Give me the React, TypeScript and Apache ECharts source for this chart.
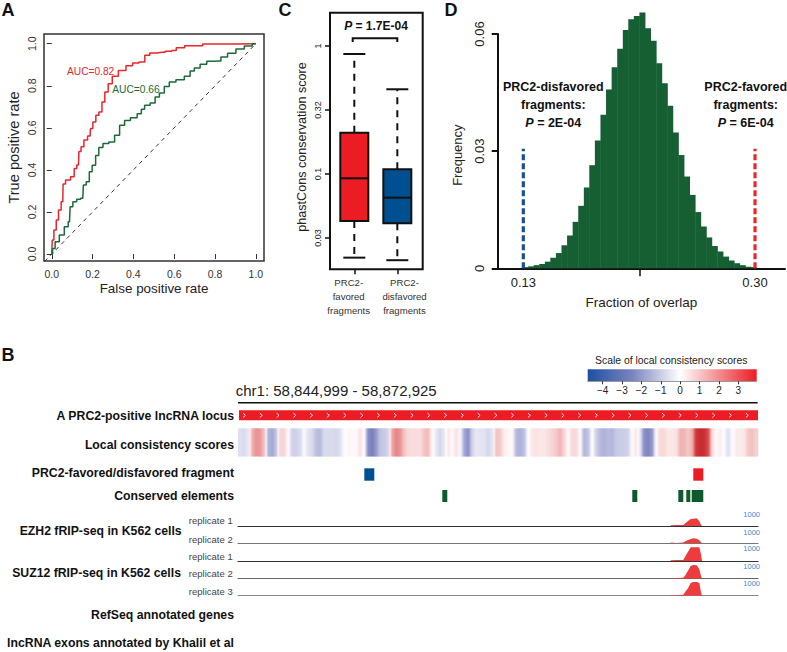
import React, { useEffect, useRef } from "react";
import * as echarts from "echarts";

const FONT = "Liberation Sans";

// Panel A: ROC curves
const rocRed = [
  [0, 0], [0.005, 0.067], [0.016, 0.114], [0.028, 0.162], [0.038, 0.209], [0.054, 0.249], [0.057, 0.333],
  [0.078, 0.352], [0.106, 0.368], [0.114, 0.407], [0.131, 0.423], [0.135, 0.487], [0.152, 0.51], [0.163, 0.542],
  [0.188, 0.561], [0.191, 0.597], [0.212, 0.628], [0.22, 0.66], [0.242, 0.675], [0.25, 0.723], [0.27, 0.77],
  [0.283, 0.81], [0.31, 0.845], [0.343, 0.873], [0.384, 0.895], [0.408, 0.908], [0.446, 0.913], [0.466, 0.945],
  [0.495, 0.956], [0.539, 0.959], [0.572, 0.964], [0.604, 0.968], [0.616, 0.981], [0.686, 0.99], [0.793, 0.998],
  [1, 1],
];
const rocGreen = [
  [0, 0], [0.008, 0.027], [0.025, 0.059], [0.049, 0.09], [0.074, 0.13], [0.087, 0.154], [0.093, 0.225],
  [0.114, 0.249], [0.131, 0.261], [0.152, 0.265], [0.158, 0.328], [0.18, 0.344], [0.188, 0.391], [0.208, 0.422],
  [0.222, 0.469], [0.239, 0.506], [0.263, 0.525], [0.296, 0.533], [0.32, 0.565], [0.345, 0.612], [0.369, 0.635],
  [0.402, 0.648], [0.435, 0.667], [0.443, 0.688], [0.467, 0.707], [0.497, 0.718], [0.516, 0.746], [0.539, 0.765],
  [0.564, 0.797], [0.588, 0.818], [0.629, 0.829], [0.67, 0.845], [0.686, 0.87], [0.711, 0.884], [0.743, 0.902],
  [0.776, 0.916], [0.817, 0.918], [0.841, 0.937], [0.882, 0.954], [0.923, 0.975], [0.964, 0.989], [1, 1],
];
const rocDiagonal = [[-0.035, -0.035], [1, 1]];
const rocTicks = [0, 0.2, 0.4, 0.6, 0.8, 1];

// Panel C: box plots, [x, low, q1, median, q3, high]
const boxRows = [
  [1, 0.0222, 0.043, 0.0925, 0.21, 0.866],
  [2, 0.0212, 0.0412, 0.0653, 0.109, 0.459],
];
const boxColors = ["#ec1c24", "#004f91"];
const phastTicks = [1, 0.316, 0.1, 0.0316];
const phastLabels = ["1", "0.32", "0.1", "0.03"];

// Panel D: permutation histogram
const binCenters = [
  0.1316, 0.1357, 0.1398, 0.1439, 0.148, 0.152, 0.1561, 0.1602, 0.1643, 0.1684, 0.1725, 0.1766, 0.1806, 0.1847,
  0.1888, 0.1929, 0.197, 0.2011, 0.2052, 0.2092, 0.2133, 0.2174, 0.2215, 0.2256, 0.2297, 0.2338, 0.2378, 0.2419,
  0.246, 0.2501, 0.2542, 0.2583, 0.2624, 0.2664, 0.2705, 0.2746, 0.2787, 0.2828, 0.2869, 0.291, 0.295, 0.2991,
];
const binFreq = [
  0.0003, 0.0005, 0.0008, 0.0011, 0.0017, 0.0027, 0.0039, 0.0059, 0.0084, 0.0119, 0.016, 0.0207, 0.0264, 0.0327,
  0.0393, 0.0458, 0.0515, 0.0562, 0.061, 0.0638, 0.0646, 0.0655, 0.0615, 0.0583, 0.0525, 0.0474, 0.0416, 0.0348,
  0.029, 0.0235, 0.0188, 0.0144, 0.0107, 0.0079, 0.0057, 0.0043, 0.003, 0.002, 0.0013, 0.0008, 0.0004, 0.0003,
];
const overlapDisfavored = 0.13;
const overlapFavored = 0.3;
const overlapMiddle = 0.2156;
const dashedHeight = 0.0306;

// Panel B: genome browser tracks
const locusStart = 58844999;
const locusEnd = 58872925;
const locusSpan = [[58845053, 58872925]];
const chevrons = [
  58845337, 58846237, 58847137, 58848037, 58848937, 58849837, 58850737, 58851637, 58852537, 58853437, 58854337,
  58855237, 58856137, 58857037, 58857937, 58858837, 58859737, 58860637, 58861537, 58862437, 58863337, 58864237,
  58865137, 58866037, 58866937, 58867837, 58868737, 58869637, 58870537, 58871437, 58872337,
];
const localScores = [
  -0.7, -0.8, -0.5, 1.4, 1.9, 1.8, 1.2, -1.6, -1.9, -1.3, 0.9, 0.9, 0.1, -1, -1, -0.8, -0.1, -0.6, -0.8, -1.4, -1.5,
  -0.8, -0.8, -0.8, -0.9, -0.7, -0.1, 0.2, 0.15, 0.1, 0.6, 0.05, -2.4, -2.7, -2.2, -1.3, -1.2, -0.9, 1.6, 2.1, 1.9,
  1.2, 0.8, 0.7, 0.7, 0.7, 1.2, 1.3, 0.2, -0.5, -0.9, -0.5, 0.5, 0.1, 0.6, 0.2, -1.9, -2.4, -1, -0.5, -0.6, -0.6,
  -0.9, -0.6, 1.2, 1.1, 0.4, 0.2, 0.1, -1.5, -1.7, -1.4, 0, 0.5, 0.6, 0.5, 0.5, 0.7, 0.9, 1.1, 1.4, 0.9, 0.1, 0.8,
  0.8, 0.1, -1.6, -1.3, 0, -1, -1.5, -1.7, -1.5, -1.6, -1.2, -1.1, -1.1, -1, 0.1, 0.5, -0.6, -2.4, -2.6, -2.2, 0.1,
  0.8, 0.8, 0.5, 0.5, 0.6, 1.4, 1.4, 1.1, 1.5, 3.4, 3.7, 3.6, 3, 0.8, 0.1, 0.4, -0.1, -0.7, -0.1, 0.4, 0.4, 0.5, 1.1,
  1.2, 1,
];
const scoreColors = [
  "#1f4ea3", "#6a70b5", "#a0a3d1", "#d0d1e9", "#ffffff", "#f6cfd0", "#e88c8e", "#d94a4d", "#bd1e24",
];
const scaleTicks = [-4, -3, -2, -1, 0, 1, 2, 3];
const disfavoredFragment = [[58851782, 58852319]];
const favoredFragment = [[58869450, 58869987]];
const conservedElements = [
  [58855971, 58856239], [58866174, 58866443], [58868645, 58868913], [58869074, 58869289], [58869364, 58869987],
];
const signalPositions = [
  58868235, 58868557, 58868915, 58869022, 58869166, 58869309, 58869452, 58869631, 58869774, 58869864, 58869918,
];
const signalEzh2Rep1 = [40, 60, 60, 157, 294, 412, 431, 451, 274, 78, 0];
const signalEzh2Rep2 = [40, 20, 40, 118, 196, 255, 294, 274, 176, 59, 0];
const signalSuz12Rep1 = [40, 60, 60, 275, 550, 804, 804, 804, 804, 392, 0];
const signalSuz12Rep2 = [40, 40, 60, 196, 470, 745, 804, 784, 550, 157, 0];
const signalSuz12Rep3 = [40, 40, 60, 235, 431, 745, 804, 804, 745, 196, 0];

function label(text: string, x: number, y: number, extra: any = {}) {
  return {
    type: "text",
    x,
    y,
    silent: true,
    style: {
      text,
      fill: "#1a1a1a",
      fontFamily: FONT,
      fontSize: 12,
      align: "center",
      verticalAlign: "middle",
      ...extra,
    },
  };
}

function boldLabel(text: string, x: number, y: number, extra: any = {}) {
  return label(text, x, y, { fontWeight: "bold", fill: "#111", ...extra });
}

// bold text with an italic P in front
function pLabel(rest: string, x: number, y: number, fontSize: number) {
  return boldLabel(`{i|P}${rest}`, x, y, {
    fontSize,
    rich: { i: { fontStyle: "italic", fontWeight: "bold", fontSize, fontFamily: FONT, fill: "#111" } },
  });
}

function renderBox(params: any, api: any) {
  const x = api.value(0);
  const p = (v: number) => api.coord([x, v]);
  const lo = p(api.value(1));
  const q1 = p(api.value(2));
  const med = p(api.value(3));
  const q3 = p(api.value(4));
  const hi = p(api.value(5));
  const cx = lo[0];
  const boxW = 28;
  const capW = 22;
  const stroke = { stroke: "#111", lineWidth: 2 };
  const dash = { ...stroke, lineDash: [7, 6] };
  const seg = (x1: number, y1: number, x2: number, y2: number, style: any) => ({
    type: "line",
    shape: { x1, y1, x2, y2 },
    style,
  });
  return {
    type: "group",
    children: [
      seg(cx, q3[1], cx, hi[1], dash),
      seg(cx, q1[1], cx, lo[1], dash),
      seg(cx - capW / 2, hi[1], cx + capW / 2, hi[1], stroke),
      seg(cx - capW / 2, lo[1], cx + capW / 2, lo[1], stroke),
      {
        type: "rect",
        shape: { x: cx - boxW / 2, y: q3[1], width: boxW, height: q1[1] - q3[1] },
        style: { fill: boxColors[params.dataIndex], ...stroke },
      },
      seg(cx - boxW / 2, med[1], cx + boxW / 2, med[1], stroke),
    ],
  };
}

function renderSpan(color: string) {
  return (_params: any, api: any) => {
    const a = api.coord([api.value(0), 1]);
    const b = api.coord([api.value(1), 0]);
    return {
      type: "rect",
      shape: { x: a[0], y: a[1], width: b[0] - a[0], height: b[1] - a[1] },
      style: { fill: color },
    };
  };
}

function renderChevron(_params: any, api: any) {
  const c = api.coord([api.value(0), 0.5]);
  return {
    type: "polyline",
    shape: { points: [[c[0] - 1.2, c[1] - 2.2], [c[0] + 1.2, c[1]], [c[0] - 1.2, c[1] + 2.2]] },
    style: { stroke: "#fff", lineWidth: 0.9, fill: "none" },
  };
}

function scoreColor(v: number) {
  return echarts.color.lerp((v + 4) / 8, scoreColors);
}

// the browser track is soft between its cells, so each cell fades into the next one
function renderScoreCell(params: any, api: any) {
  const i = params.dataIndex;
  const v = localScores[i];
  const prev = localScores[Math.max(i - 1, 0)];
  const next = localScores[Math.min(i + 1, localScores.length - 1)];
  const c = api.coord([i, 0]);
  const size = api.size([1, 1]);
  return {
    type: "rect",
    shape: { x: c[0] - size[0] / 2, y: c[1] - size[1] / 2, width: size[0] + 0.3, height: size[1] },
    style: {
      fill: new echarts.graphic.LinearGradient(0, 0, 1, 0, [
        { offset: 0, color: scoreColor((prev + v) / 2) },
        { offset: 0.5, color: scoreColor(v) },
        { offset: 1, color: scoreColor((v + next) / 2) },
      ]),
    },
  };
}

function buildOption(): any {
  const trackLeft = 238;
  const trackWidth = 520;
  const trackGrid = (top: number, height: number) => ({ left: trackLeft, width: trackWidth, top, height });
  const genomeAxis = (gridIndex: number, extra: any = {}) => ({
    type: "value",
    gridIndex,
    min: locusStart,
    max: locusEnd,
    show: false,
    ...extra,
  });
  const unitAxis = (gridIndex: number) => ({ type: "value", gridIndex, min: 0, max: 1, show: false });

  const signals = [
    { values: signalEzh2Rep1, base: 526, line: "#333" },
    { values: signalEzh2Rep2, base: 543.3, line: "#777" },
    { values: signalSuz12Rep1, base: 561, line: "#333" },
    { values: signalSuz12Rep2, base: 578.7, line: "#666" },
    { values: signalSuz12Rep3, base: 595.7, line: "#888" },
  ];
  const signalHeight = 17;

  const grid: any[] = [
    { left: 44, top: 34, width: 220, height: 227, show: true, borderColor: "#333", borderWidth: 1.5, backgroundColor: "transparent" },
    { left: 330, top: 12.7, width: 92.7, height: 256.6, show: true, borderColor: "#111", borderWidth: 2, backgroundColor: "transparent" },
    { left: 497.7, top: 34, width: 287.3, height: 234.3 },
    { left: 587.7, top: 369.3, width: 169, height: 12 },
    trackGrid(410.3, 10),
    trackGrid(428.3, 28.3),
    trackGrid(468.3, 12.4),
    trackGrid(490, 12),
    ...signals.map((s) => trackGrid(s.base - signalHeight, signalHeight)),
  ];

  const rocAxisLabel = {
    customValues: rocTicks,
    formatter: (v: number) => v.toFixed(1),
    fontSize: 10.5,
    color: "#333",
    margin: 7,
    fontFamily: FONT,
  };
  const rocTick = { customValues: rocTicks, length: 5, lineStyle: { color: "#333" } };
  const nameStyle = { color: "#222", fontFamily: FONT, fontSize: 13.4 };

  const xAxis: any[] = [
    {
      type: "value",
      gridIndex: 0,
      min: -0.038,
      max: 1.04,
      name: "False positive rate",
      nameLocation: "middle",
      nameGap: 21,
      nameTextStyle: nameStyle,
      splitLine: { show: false },
      axisLine: { show: false },
      axisTick: rocTick,
      axisLabel: rocAxisLabel,
    },
    {
      type: "value",
      gridIndex: 1,
      min: 0.435,
      max: 2.59,
      splitLine: { show: false },
      axisLine: { show: false },
      axisTick: { customValues: [1, 2], length: 5, lineStyle: { color: "#111", width: 1.5 } },
      axisLabel: { show: false },
    },
    {
      type: "value",
      gridIndex: 2,
      min: 0.1112,
      max: 0.322,
      name: "Fraction of overlap",
      nameLocation: "middle",
      nameGap: 27,
      nameTextStyle: { ...nameStyle, fontSize: 13.5 },
      splitLine: { show: false },
      axisLine: { lineStyle: { color: "#111", width: 2 } },
      axisTick: { customValues: [overlapMiddle], length: 8, lineStyle: { color: "#111", width: 1.5 } },
      axisLabel: {
        customValues: [overlapDisfavored, overlapFavored],
        formatter: (v: number) => v.toFixed(2),
        fontSize: 13,
        color: "#222",
        margin: 8,
        fontFamily: FONT,
      },
    },
    {
      type: "value",
      gridIndex: 3,
      min: -4.77,
      max: 3.95,
      splitLine: { show: false },
      axisLine: { lineStyle: { color: "#999", width: 1 } },
      axisTick: { customValues: scaleTicks, length: 3, inside: false, lineStyle: { color: "#333" } },
      axisLabel: {
        customValues: scaleTicks,
        formatter: (v: number) => (v < 0 ? `\u2212${-v}` : `${v}`),
        fontSize: 10,
        color: "#222",
        margin: 4,
        fontFamily: FONT,
      },
    },
    genomeAxis(4),
    { type: "category", gridIndex: 5, show: false, data: localScores.map((_, i) => i) },
    genomeAxis(6),
    genomeAxis(7),
    ...signals.map((s, i) =>
      genomeAxis(8 + i, {
        show: true,
        splitLine: { show: false },
        axisTick: { show: false },
        axisLabel: { show: false },
        axisLine: { lineStyle: { color: s.line, width: 1.2 } },
      })
    ),
  ];

  const yAxis: any[] = [
    {
      type: "value",
      gridIndex: 0,
      min: -0.033,
      max: 1.046,
      name: "True positive rate",
      nameLocation: "middle",
      nameGap: 23,
      nameTextStyle: { ...nameStyle, fontSize: 14.6 },
      splitLine: { show: false },
      axisLine: { show: false },
      axisTick: rocTick,
      axisLabel: { ...rocAxisLabel, rotate: 90 },
    },
    {
      type: "log",
      logBase: 10,
      gridIndex: 1,
      min: 0.018,
      max: 1.82,
      name: "phastCons conservation score",
      nameLocation: "middle",
      nameGap: 22,
      nameTextStyle: { ...nameStyle, fontSize: 12.6, padding: [0, 12, 0, 0] },
      splitLine: { show: false },
      minorTick: { show: false },
      axisLine: { show: false },
      axisTick: { customValues: phastTicks, length: 5, lineStyle: { color: "#111", width: 1.5 } },
      axisLabel: {
        customValues: phastTicks,
        formatter: (v: number) => phastLabels[phastTicks.findIndex((t) => Math.abs(t - v) < 1e-6)] ?? "",
        rotate: 90,
        fontSize: 9,
        color: "#222",
        margin: 8,
        fontFamily: FONT,
      },
    },
    {
      type: "value",
      gridIndex: 2,
      min: 0,
      max: 0.06,
      interval: 0.03,
      name: "Frequency",
      nameLocation: "middle",
      nameGap: 34,
      nameTextStyle: { ...nameStyle, fontSize: 13, padding: [0, 8, 0, 0] },
      splitLine: { show: false },
      axisLine: { show: true, lineStyle: { color: "#111", width: 2 } },
      axisTick: { show: true, length: 6, lineStyle: { color: "#111", width: 2 } },
      axisLabel: { rotate: 90, fontSize: 13, color: "#222", margin: 12, fontFamily: FONT },
    },
    { type: "value", gridIndex: 3, min: 0, max: 1, show: false },
    unitAxis(4),
    { type: "category", gridIndex: 5, show: false, data: ["score"] },
    unitAxis(6),
    unitAxis(7),
    ...signals.map((_, i) => ({ type: "value", gridIndex: 8 + i, min: 0, max: 1000, show: false })),
  ];

  const roc = (data: number[][], color: string) => ({
    type: "line",
    xAxisIndex: 0,
    yAxisIndex: 0,
    data,
    symbol: "none",
    step: "middle",
    lineStyle: { color, width: 1.5 },
    z: 3,
  });
  const span = (axis: number, data: number[][], color: string) => ({
    type: "custom",
    xAxisIndex: axis,
    yAxisIndex: axis,
    data,
    renderItem: renderSpan(color),
    encode: { x: [0, 1] },
  });
  const dashed = (x: number, color: string) => ({
    type: "line",
    xAxisIndex: 2,
    yAxisIndex: 2,
    data: [[x, 0], [x, dashedHeight]],
    symbol: "none",
    z: 4,
    lineStyle: { color, width: 3.2, type: [6, 3] },
  });

  const series: any[] = [
    {
      type: "line",
      xAxisIndex: 0,
      yAxisIndex: 0,
      data: rocDiagonal,
      symbol: "none",
      lineStyle: { color: "#333", width: 1, type: [4, 4] },
    },
    roc(rocRed, "#e8262b"),
    roc(rocGreen, "#1c6a3a"),
    {
      type: "custom",
      xAxisIndex: 1,
      yAxisIndex: 1,
      data: boxRows,
      renderItem: renderBox,
      encode: { x: 0, y: [1, 2, 3, 4, 5] },
    },
    {
      type: "bar",
      xAxisIndex: 2,
      yAxisIndex: 2,
      data: binCenters.map((x, i) => [x, binFreq[i]]),
      barWidth: 6,
      clip: false,
      itemStyle: { color: "#155f33" },
    },
    dashed(overlapDisfavored, "#1d4f96"),
    dashed(overlapFavored, "#e6282c"),
    span(4, locusSpan, "#ec1c24"),
    {
      type: "custom",
      xAxisIndex: 4,
      yAxisIndex: 4,
      data: chevrons.map((x) => [x]),
      renderItem: renderChevron,
      encode: { x: 0 },
      z: 3,
    },
    {
      type: "custom",
      xAxisIndex: 5,
      yAxisIndex: 5,
      data: localScores.map((v, i) => [i, 0, v]),
      renderItem: renderScoreCell,
      encode: { x: 0, y: 1 },
    },
    span(6, disfavoredFragment, "#004f91"),
    span(6, favoredFragment, "#ec1c24"),
    span(7, conservedElements, "#0f5a2c"),
    ...signals.map((s, i) => ({
      type: "line",
      xAxisIndex: 8 + i,
      yAxisIndex: 8 + i,
      data: signalPositions.map((x, j) => [x, s.values[j]]),
      symbol: "none",
      lineStyle: { width: 0 },
      areaStyle: { color: "#ee3b3d", opacity: 1 },
    })),
  ];

  const elements: any[] = [
    boldLabel("A", 8, 10, { fontSize: 18 }),
    boldLabel("C", 285, 10, { fontSize: 18 }),
    boldLabel("D", 451, 10, { fontSize: 18 }),
    boldLabel("B", 8, 355, { fontSize: 18 }),
    label("AUC=0.82", 67, 71.7, { align: "left", fontSize: 10.2, fill: "#e8262b" }),
    label("AUC=0.66", 112.3, 89, { align: "left", fontSize: 10.2, fill: "#1c6a3a" }),
    pLabel(" = 1.7E-04", 376, 26, 12),
    {
      type: "polyline",
      silent: true,
      shape: { points: [[352.7, 42], [352.7, 38.3], [397.3, 38.3], [397.3, 42]] },
      style: { stroke: "#111", lineWidth: 2, fill: "none" },
    },
    label("PRC2-", 348.7, 282.7, { fontSize: 9.6, fill: "#333" }),
    label("favored", 348.7, 296.7, { fontSize: 9.6, fill: "#333" }),
    label("fragments", 348.7, 310.7, { fontSize: 9.6, fill: "#333" }),
    label("PRC2-", 404.5, 282.7, { fontSize: 9.6, fill: "#333" }),
    label("disfavored", 404.5, 296.7, { fontSize: 9.6, fill: "#333" }),
    label("fragments", 404.5, 310.7, { fontSize: 9.6, fill: "#333" }),
    boldLabel("PRC2-disfavored", 553.3, 87.3, { fontSize: 12.5 }),
    boldLabel("fragments:", 553.3, 105, { fontSize: 12.5 }),
    pLabel(" = 2E-04", 553.3, 122.7, 12.5),
    boldLabel("PRC2-favored", 745.7, 87.3, { fontSize: 12.5 }),
    boldLabel("fragments:", 745.7, 105, { fontSize: 12.5 }),
    pLabel(" = 6E-04", 745.7, 122.7, 12.5),
    label("chr1: 58,844,999 - 58,872,925", 235.7, 390, { align: "left", fontSize: 15, fill: "#222" }),
    {
      type: "line",
      silent: true,
      shape: { x1: 238, y1: 402.7, x2: 757.7, y2: 402.7 },
      style: { stroke: "#111", lineWidth: 1.5 },
    },
    label("Scale of local consistency scores", 671.3, 360, { fontSize: 10.4, fill: "#222" }),
    {
      type: "rect",
      silent: true,
      shape: { x: 587.7, y: 369.3, width: 169, height: 12 },
      style: {
        fill: new echarts.graphic.LinearGradient(0, 0, 1, 0, [
          { offset: 0, color: "#1d4fa3" },
          { offset: 0.27, color: "#7c86c0" },
          { offset: 0.546, color: "#ffffff" },
          { offset: 0.75, color: "#f29a9c" },
          { offset: 1, color: "#ec1c24" },
        ]),
      },
    },
  ];

  const trackLabels: [string, number, number][] = [
    ["A PRC2-positive lncRNA locus", 234, 416],
    ["Local consistency scores", 234, 444.7],
    ["PRC2-favored/disfavored fragment", 234, 472.7],
    ["Conserved elements", 234, 496],
    ["EZH2 fRIP-seq in K562 cells", 181.7, 530.7],
    ["SUZ12 fRIP-seq in K562 cells", 181, 572.7],
    ["RefSeq annotated genes", 234, 615],
    ["lncRNA exons annotated by Khalil et al", 234, 643.3],
  ];
  trackLabels.forEach(([t, x, y]) => elements.push(boldLabel(t, x, y, { align: "right", fontSize: 12.25 })));

  const repLabels: [string, number][] = [
    ["replicate 1", 520.7],
    ["replicate 2", 539],
    ["replicate 1", 556.7],
    ["replicate 2", 573.3],
    ["replicate 3", 591],
  ];
  repLabels.forEach(([t, y]) => elements.push(label(t, 232.7, y, { align: "right", fontSize: 9.5, fill: "#444" })));

  [514, 532, 548.7, 566, 583].forEach((y) =>
    elements.push(label("1000", 760, y, { align: "right", fontSize: 7.5, fill: "#3a8ad0" }))
  );

  return {
    animation: false,
    backgroundColor: "#fff",
    textStyle: { fontFamily: FONT },
    grid,
    xAxis,
    yAxis,
    series,
    graphic: { elements },
  };
}

export default function App() {
  const chartRef = useRef<HTMLDivElement>(null);

  useEffect(() => {
    if (!chartRef.current) return;
    const chart = echarts.init(chartRef.current, undefined, { renderer: "svg" });
    chart.setOption(buildOption());
    return () => chart.dispose();
  }, []);

  return <div ref={chartRef} style={{ position: "fixed", left: 0, top: 0, width: 787, height: 652 }} />;
}
